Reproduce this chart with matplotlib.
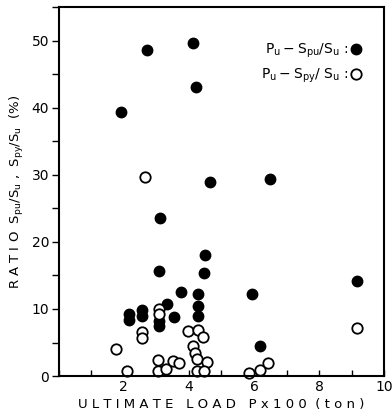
import numpy as np
import matplotlib
matplotlib.use("Agg")
import matplotlib.pyplot as plt
from matplotlib.ticker import MultipleLocator

plt.rcParams['mathtext.default'] = 'regular'

# Pu - Spu/Su  (filled)
spu_x = [1.92, 2.72, 4.14, 4.23, 4.66, 6.49, 3.12, 4.49, 3.08, 4.46, 3.77, 4.29,
         5.93, 3.32, 4.28, 4.28, 3.55, 3.07, 3.07, 2.15, 2.15, 2.55, 2.55, 9.18, 6.18]
spu_y = [39.3, 48.6, 49.7, 43.1, 29.0, 29.3, 23.6, 18.0, 15.6, 15.3, 12.6, 12.2,
         12.2, 10.8, 10.4, 8.9, 8.85, 8.2, 7.4, 9.2, 8.3, 9.8, 8.9, 14.2, 4.5]

# Pu - Spy/Su  (open)
spy_x = [2.65, 9.18, 1.77, 2.10, 2.57, 2.57, 3.08, 3.08, 3.05, 3.04, 3.30, 3.50,
         3.70, 3.96, 4.29, 4.43, 4.12, 4.19, 4.26, 4.57, 4.24, 4.45, 5.86, 6.17, 6.42]
spy_y = [29.7, 7.2, 4.0, 0.7, 6.5, 5.6, 10.0, 9.3, 2.4, 0.7, 1.1, 2.2,
         2.0, 6.7, 6.8, 5.8, 4.5, 3.4, 2.6, 2.1, 0.7, 0.7, 0.5, 0.9, 2.0]

fig = plt.figure(figsize=(3.92, 4.16), dpi=100)
ax = fig.add_axes([0.15, 0.096, 0.83, 0.887])

ax.plot(spu_x, spu_y, 'o', color='black', markersize=7.5, linestyle='none',
        label=r'$P_u - S_{pu}/S_u$ :', clip_on=False)
ax.plot(spy_x, spy_y, 'o', markerfacecolor='white', markeredgecolor='black',
        markeredgewidth=1.3, markersize=7.5, linestyle='none',
        label=r'$P_u - S_{py}/\ S_u$ :', clip_on=False)

ax.set_xlim(0, 10)
ax.set_ylim(0, 55)
ax.xaxis.set_major_locator(MultipleLocator(2))
ax.xaxis.set_minor_locator(MultipleLocator(1))
ax.yaxis.set_major_locator(MultipleLocator(10))
ax.yaxis.set_minor_locator(MultipleLocator(5))
ax.set_xticks([2, 4, 6, 8, 10])
ax.tick_params(axis='x', which='both', direction='in', length=4, width=1, labelsize=10, pad=3)
ax.tick_params(axis='y', which='both', direction='out', length=5, width=1, labelsize=10, pad=2)
for s in ax.spines.values():
    s.set_linewidth(1.5)

ax.set_xlabel('U L T I M A T E   L O A D   P x 1 0 0  ( t o n )', fontsize=9.5, labelpad=3)
ax.set_ylabel(r'R A T I O  $S_{pu}/S_u$ ,  $S_{py}/S_u$  (%)', fontsize=9.5, labelpad=4)

ax.legend(loc='upper right', bbox_to_anchor=(0.97, 0.94), frameon=False,
          markerfirst=False, handletextpad=0.2, fontsize=10, labelspacing=0.5,
          handlelength=0.8)

fig.savefig('out.png', dpi=100)
